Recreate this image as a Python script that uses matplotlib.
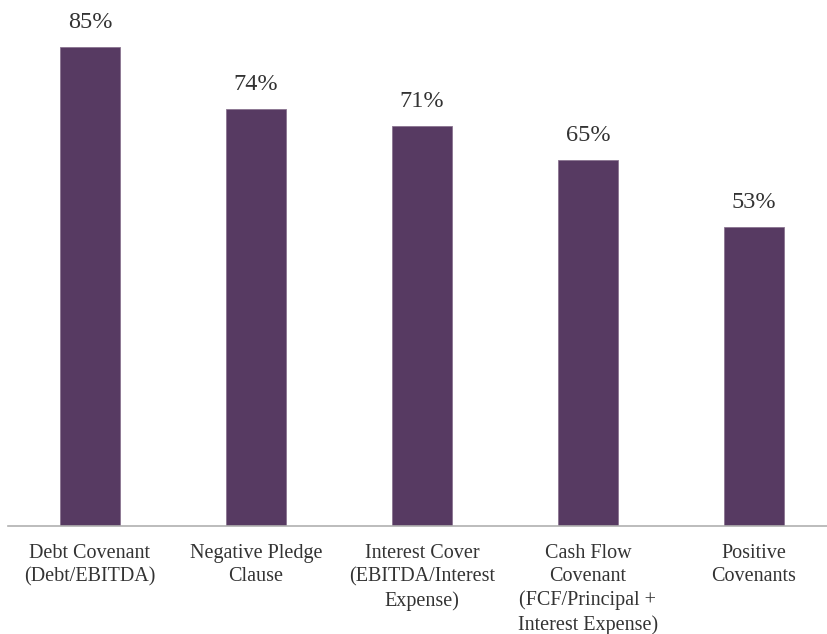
import matplotlib.pyplot as plt

categories = [
    "Debt Covenant\n(Debt/EBITDA)",
    "Negative Pledge\nClause",
    "Interest Cover\n(EBITDA/Interest\nExpense)",
    "Cash Flow\nCovenant\n(FCF/Principal +\nInterest Expense)",
    "Positive\nCovenants",
]
shares = [85, 74, 71, 65, 53]

plt.rcParams['font.family'] = ['Liberation Serif', 'DejaVu Serif']

fig = plt.figure(figsize=(8.27, 6.34), dpi=100)
ax = fig.add_axes([8 / 827, 108 / 634, 819 / 827, 526 / 634])

x = list(range(len(categories)))
ax.bar(x, shares, width=0.36, color='#573a62', edgecolor='#8a7490', linewidth=0.6)

for xi, v in zip(x, shares):
    ax.annotate(f"{v}%", (xi, v), xytext=(0, 10), textcoords='offset points',
                ha='center', va='bottom', fontsize=17.5, color='#333333')

ax.set_xlim(-0.494, 4.44)
ax.set_ylim(0, 93.3)
ax.set_xticks(x)
ax.set_xticklabels(categories, fontsize=14.5, color='#333333', linespacing=1.3)
ax.tick_params(axis='x', length=0, pad=13)
ax.set_yticks([])

for side in ['top', 'right', 'left']:
    ax.spines[side].set_visible(False)
ax.spines['bottom'].set_color('#b0b0b0')
ax.spines['bottom'].set_linewidth(1.2)

fig.savefig('out.png', dpi=100)
